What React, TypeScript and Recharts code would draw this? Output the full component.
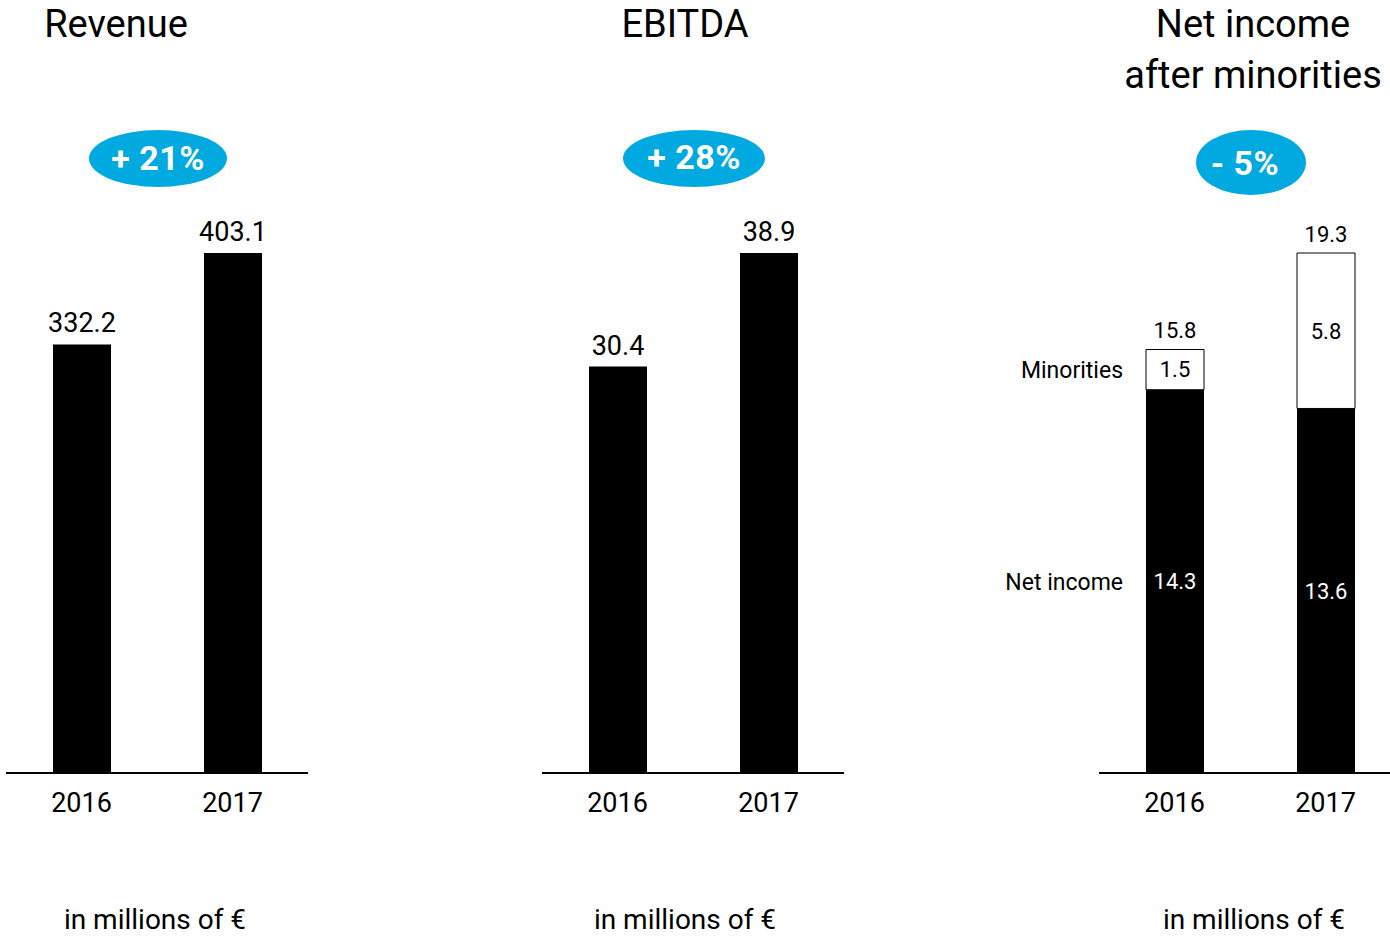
import React from "react"
import { BarChart, Bar, XAxis, YAxis, LabelList } from "recharts"

// values (in millions of €)
const years = ["2016", "2017"]
const revenue = [332.2, 403.1]
const ebitda = [30.4, 38.9]
const netIncome = [14.3, 13.6]
const minorities = [1.5, 5.8]
const netIncomeTotal = [15.8, 19.3]

const titles = [["Revenue"], ["EBITDA"], ["Net income", "after minorities"]]
const changes = ["+ 21%", "+ 28%", "- 5%"]
const unitNote = "in millions of €"
const segmentNames = ["Net income", "Minorities"]

const revenueData = years.map((year, i) => ({ year, value: revenue[i] }))
const ebitdaData = years.map((year, i) => ({ year, value: ebitda[i] }))
const netData = years.map((year, i) => ({
  year,
  netIncome: netIncome[i],
  minorities: minorities[i],
  total: netIncomeTotal[i],
}))

const FONT = "Roboto, 'DejaVu Sans', sans-serif"
const BLUE = "#00a9e0"

const chartProps = {
  width: 432,
  height: 937,
  margin: { top: 253, right: 0, bottom: 124, left: 130 },
}

function Axes() {
  return (
    <>
      <XAxis
        dataKey="year"
        height={40}
        interval={0}
        tickLine={false}
        tickSize={0}
        tickMargin={20}
        axisLine={{ stroke: "#000", strokeWidth: 2 }}
        tick={{ fill: "#000", fontSize: 27, fontFamily: FONT }}
      />
      <YAxis hide domain={[0, "dataMax"]} />
    </>
  )
}

// name of the stacked segment, written left of the 2016 bar
const sideLabel = (text: string) => (props: any) => {
  if (props.index !== 0) return null
  const vb = props.viewBox || props
  return (
    <text
      x={vb.x - 23}
      y={vb.y + vb.height / 2}
      dy="0.355em"
      textAnchor="end"
      fill="#000"
      fontSize={23}
      fontFamily={FONT}
    >
      {text}
    </text>
  )
}

function SimpleChart({ data, left }: { data: any[]; left: number }) {
  return (
    <div style={{ position: "absolute", left, top: 0 }}>
      <BarChart data={data} {...chartProps}>
        {Axes()}
        <Bar dataKey="value" fill="#000" barSize={58} isAnimationActive={false}>
          <LabelList
            dataKey="value"
            position="top"
            offset={12}
            fill="#000"
            fontSize={27}
            fontFamily={FONT}
          />
        </Bar>
      </BarChart>
    </div>
  )
}

function StackedChart({ left }: { left: number }) {
  return (
    <div style={{ position: "absolute", left, top: 0 }}>
      <BarChart data={netData} {...chartProps}>
        {Axes()}
        <Bar dataKey="netIncome" stackId="a" fill="#000" barSize={58} isAnimationActive={false}>
          <LabelList dataKey="netIncome" position="center" fill="#fff" fontSize={22} fontFamily={FONT} />
          <LabelList dataKey="netIncome" content={sideLabel(segmentNames[0])} />
        </Bar>
        <Bar
          dataKey="minorities"
          stackId="a"
          fill="#fff"
          stroke="#000"
          strokeWidth={1}
          barSize={58}
          isAnimationActive={false}
        >
          <LabelList dataKey="minorities" position="center" fill="#000" fontSize={22} fontFamily={FONT} />
          <LabelList dataKey="total" position="top" offset={11} fill="#000" fontSize={22} fontFamily={FONT} />
          <LabelList dataKey="minorities" content={sideLabel(segmentNames[1])} />
        </Bar>
      </BarChart>
    </div>
  )
}

const titleX = [116, 685, 1253]
const badges = [
  { cx: 158, cy: 158.5, rx: 69, ry: 28.5, tx: 158, ty: 170 },
  { cx: 694, cy: 158.5, rx: 71, ry: 28.5, tx: 694, ty: 169 },
  { cx: 1251, cy: 162.5, rx: 55, ry: 32.5, tx: 1245, ty: 175 },
]
const noteX = [155, 685, 1254]

export default function App() {
  return (
    <div
      style={{
        position: "absolute",
        left: 0,
        top: 0,
        width: 1390,
        height: 937,
        overflow: "hidden",
        background: "#fff",
      }}
    >
      <SimpleChart data={revenueData} left={6 - 130} />
      <SimpleChart data={ebitdaData} left={542 - 130} />
      <StackedChart left={1099 - 130} />

      <svg
        width={1390}
        height={937}
        style={{ position: "absolute", left: 0, top: 0, pointerEvents: "none" }}
        fontFamily={FONT}
      >
        {titles.map((lines, i) =>
          lines.map((line, j) => (
            <text key={`t${i}${j}`} x={titleX[i]} y={37 + j * 51} textAnchor="middle" fontSize={38} fill="#000">
              {line}
            </text>
          ))
        )}
        {badges.map((b, i) => (
          <g key={`b${i}`}>
            <ellipse cx={b.cx} cy={b.cy} rx={b.rx} ry={b.ry} fill={BLUE} />
            <text
              x={b.tx}
              y={b.ty}
              textAnchor="middle"
              fontSize={34}
              fontWeight={700}
              letterSpacing={0.5}
              fill="#fff"
            >
              {changes[i]}
            </text>
          </g>
        ))}
        {noteX.map((x, i) => (
          <text key={`n${i}`} x={x} y={929} textAnchor="middle" fontSize={28} fill="#000">
            {unitNote}
          </text>
        ))}
      </svg>
    </div>
  )
}
